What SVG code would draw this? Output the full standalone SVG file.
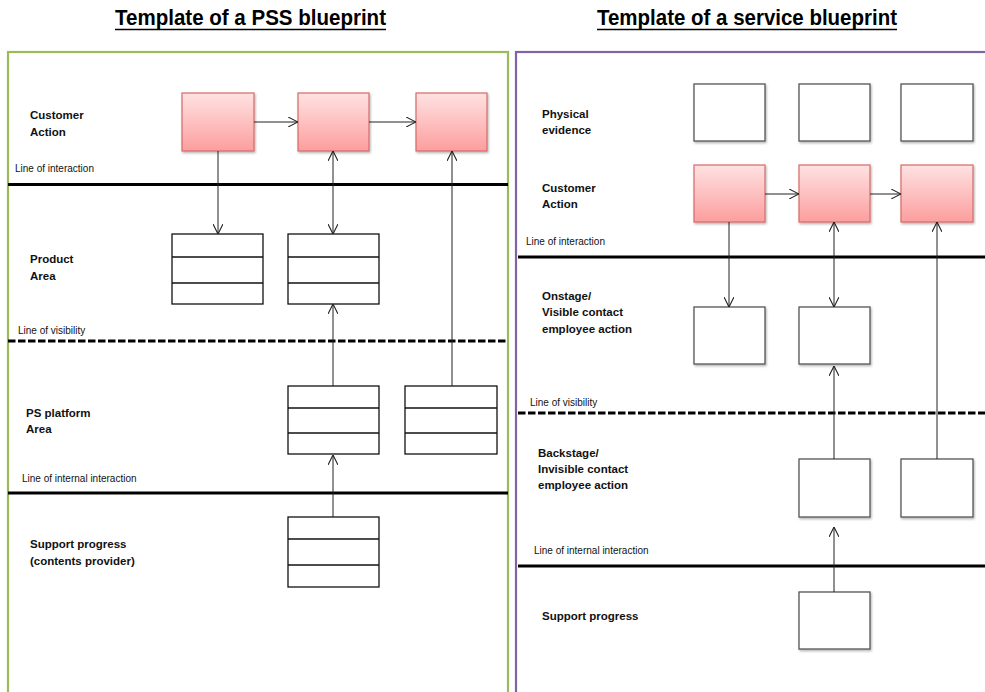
<svg xmlns="http://www.w3.org/2000/svg" width="985" height="692" viewBox="0 0 985 692">
  <style>
    .title { font-family: "Liberation Sans", Arial, sans-serif; font-weight: bold; font-size: 22.5px; fill: #000; }
    .lane { font-family: "Liberation Sans", Arial, sans-serif; font-weight: bold; font-size: 11.5px; fill: #111; }
    .lineLbl { font-family: "Liberation Sans", Arial, sans-serif; font-size: 10px; fill: #111; }
    .sep { stroke: #000; stroke-width: 3; fill: none; }
    .dash { stroke: #000; stroke-width: 3; stroke-dasharray: 7.5 2.5; fill: none; }
    .act { fill: url(#pink); stroke: #D66B68; stroke-width: 1.2; filter: url(#shadow); }
    .plain { fill: #fff; stroke: #555; stroke-width: 1.3; filter: url(#shadow); }
    .stack { fill: #fff; stroke: #111; stroke-width: 1.3; }
    .conn { stroke: #222; stroke-width: 1; fill: none; }
  </style>
  <defs>
    <linearGradient id="pink" x1="0" y1="0" x2="0" y2="1">
      <stop offset="0" stop-color="#FFE2E2"/>
      <stop offset="1" stop-color="#FC9E9E"/>
    </linearGradient>
    <filter id="shadow" x="-10%" y="-10%" width="130%" height="130%">
      <feDropShadow dx="1" dy="1.5" stdDeviation="1" flood-color="#000" flood-opacity="0.3"/>
    </filter>
    <marker id="open" viewBox="0 0 10 10" refX="10" refY="5" markerWidth="10" markerHeight="10" markerUnits="userSpaceOnUse" orient="auto-start-reverse">
      <path d="M0,0 L10,5 L0,10" fill="none" stroke="#222" stroke-width="1.1"/>
    </marker>
  </defs>

  <!-- headings -->
  <g id="titles">
    <text class="title" x="115" y="25" textLength="271" lengthAdjust="spacingAndGlyphs">Template of a PSS blueprint</text>
    <line x1="115" y1="29.5" x2="386" y2="29.5" stroke="#000" stroke-width="1.5"/>
    <text class="title" x="597" y="25" textLength="300" lengthAdjust="spacingAndGlyphs">Template of a service blueprint</text>
    <line x1="597" y1="29.5" x2="897" y2="29.5" stroke="#000" stroke-width="1.5"/>
  </g>

  <!-- panel frames -->
  <g id="frames">
    <rect x="8" y="52" width="500" height="660" fill="none" stroke="#9BBB59" stroke-width="2.2"/>
    <rect x="516" y="52" width="490" height="660" fill="none" stroke="#8064A2" stroke-width="2.2"/>
  </g>

  <!-- PSS blueprint: lanes and separators -->
  <g id="pss-lanes">
    <text class="lane" x="30" y="119">Customer</text>
    <text class="lane" x="30" y="136">Action</text>
    <text class="lane" x="30" y="263">Product</text>
    <text class="lane" x="30" y="280">Area</text>
    <text class="lane" x="26" y="417">PS platform</text>
    <text class="lane" x="26" y="433">Area</text>
    <text class="lane" x="30" y="548">Support progress</text>
    <text class="lane" x="30" y="565">(contents provider)</text>
    <text class="lineLbl" x="15" y="172">Line of interaction</text>
    <line class="sep" x1="8" y1="184.5" x2="508" y2="184.5"/>
    <text class="lineLbl" x="18" y="334">Line of visibility</text>
    <line class="dash" x1="8" y1="341" x2="508" y2="341"/>
    <text class="lineLbl" x="22" y="482">Line of internal interaction</text>
    <line class="sep" x1="8" y1="493" x2="508" y2="493"/>
  </g>

  <!-- PSS blueprint: customer actions -->
  <g id="pss-action-1"><rect class="act" x="182" y="93" width="72" height="58"/></g>
  <g id="pss-action-2"><rect class="act" x="298" y="93" width="71" height="58"/></g>
  <g id="pss-action-3"><rect class="act" x="416" y="93" width="71" height="58"/></g>

  <!-- PSS blueprint: stacked areas -->
  <g id="pss-product-1">
    <rect class="stack" x="172" y="234" width="91" height="70"/>
    <line class="stack" x1="172" y1="257" x2="263" y2="257"/>
    <line class="stack" x1="172" y1="283" x2="263" y2="283"/>
  </g>
  <g id="pss-product-2">
    <rect class="stack" x="288" y="234" width="91" height="70"/>
    <line class="stack" x1="288" y1="257" x2="379" y2="257"/>
    <line class="stack" x1="288" y1="283" x2="379" y2="283"/>
  </g>
  <g id="pss-platform-1">
    <rect class="stack" x="288" y="386" width="91" height="68"/>
    <line class="stack" x1="288" y1="408" x2="379" y2="408"/>
    <line class="stack" x1="288" y1="433" x2="379" y2="433"/>
  </g>
  <g id="pss-platform-2">
    <rect class="stack" x="405" y="386" width="92" height="68"/>
    <line class="stack" x1="405" y1="408" x2="497" y2="408"/>
    <line class="stack" x1="405" y1="433" x2="497" y2="433"/>
  </g>
  <g id="pss-support">
    <rect class="stack" x="288" y="517" width="91" height="70"/>
    <line class="stack" x1="288" y1="539" x2="379" y2="539"/>
    <line class="stack" x1="288" y1="565" x2="379" y2="565"/>
  </g>

  <!-- service blueprint: lanes and separators -->
  <g id="svc-lanes">
    <text class="lane" x="542" y="118">Physical</text>
    <text class="lane" x="542" y="134">evidence</text>
    <text class="lane" x="542" y="192">Customer</text>
    <text class="lane" x="542" y="208">Action</text>
    <text class="lane" x="542" y="300">Onstage/</text>
    <text class="lane" x="542" y="316">Visible contact</text>
    <text class="lane" x="542" y="333">employee action</text>
    <text class="lane" x="538" y="457">Backstage/</text>
    <text class="lane" x="538" y="473">Invisible contact</text>
    <text class="lane" x="538" y="489">employee action</text>
    <text class="lane" x="542" y="620">Support progress</text>
    <text class="lineLbl" x="526" y="245">Line of interaction</text>
    <line class="sep" x1="518" y1="257" x2="985" y2="257"/>
    <text class="lineLbl" x="530" y="406">Line of visibility</text>
    <line class="dash" x1="518" y1="413" x2="985" y2="413"/>
    <text class="lineLbl" x="534" y="554">Line of internal interaction</text>
    <line class="sep" x1="518" y1="566" x2="985" y2="566"/>
  </g>

  <!-- service blueprint: boxes -->
  <g id="svc-evidence-1"><rect class="plain" x="694" y="84" width="71" height="57"/></g>
  <g id="svc-evidence-2"><rect class="plain" x="799" y="84" width="71" height="57"/></g>
  <g id="svc-evidence-3"><rect class="plain" x="901" y="84" width="72" height="57"/></g>
  <g id="svc-action-1"><rect class="act" x="694" y="165" width="71" height="57"/></g>
  <g id="svc-action-2"><rect class="act" x="799" y="165" width="71" height="57"/></g>
  <g id="svc-action-3"><rect class="act" x="901" y="165" width="72" height="57"/></g>
  <g id="svc-onstage-1"><rect class="plain" x="694" y="307" width="71" height="57"/></g>
  <g id="svc-onstage-2"><rect class="plain" x="799" y="307" width="71" height="57"/></g>
  <g id="svc-backstage-1"><rect class="plain" x="799" y="459" width="71" height="58"/></g>
  <g id="svc-backstage-2"><rect class="plain" x="901" y="459" width="72" height="58"/></g>
  <g id="svc-support"><rect class="plain" x="799" y="592" width="71" height="57"/></g>

  <!-- connectors -->
  <g id="connectors">
    <!-- PSS -->
    <line class="conn" x1="254" y1="122" x2="298" y2="122" marker-end="url(#open)"/>
    <line class="conn" x1="369" y1="122" x2="416" y2="122" marker-end="url(#open)"/>
    <line class="conn" x1="218" y1="151" x2="218" y2="234" marker-end="url(#open)"/>
    <line class="conn" x1="333" y1="151" x2="333" y2="234" marker-start="url(#open)" marker-end="url(#open)"/>
    <line class="conn" x1="452" y1="386" x2="452" y2="151" marker-end="url(#open)"/>
    <line class="conn" x1="333" y1="386" x2="333" y2="304" marker-end="url(#open)"/>
    <line class="conn" x1="333" y1="517" x2="333" y2="455" marker-end="url(#open)"/>
    <!-- service -->
    <line class="conn" x1="765" y1="194" x2="799" y2="194" marker-end="url(#open)"/>
    <line class="conn" x1="870" y1="194" x2="901" y2="194" marker-end="url(#open)"/>
    <line class="conn" x1="729" y1="222" x2="729" y2="307" marker-end="url(#open)"/>
    <line class="conn" x1="834" y1="222" x2="834" y2="307" marker-start="url(#open)" marker-end="url(#open)"/>
    <line class="conn" x1="937" y1="459" x2="937" y2="222" marker-end="url(#open)"/>
    <line class="conn" x1="834" y1="459" x2="834" y2="366" marker-end="url(#open)"/>
    <line class="conn" x1="834" y1="592" x2="834" y2="527" marker-end="url(#open)"/>
  </g>
</svg>
